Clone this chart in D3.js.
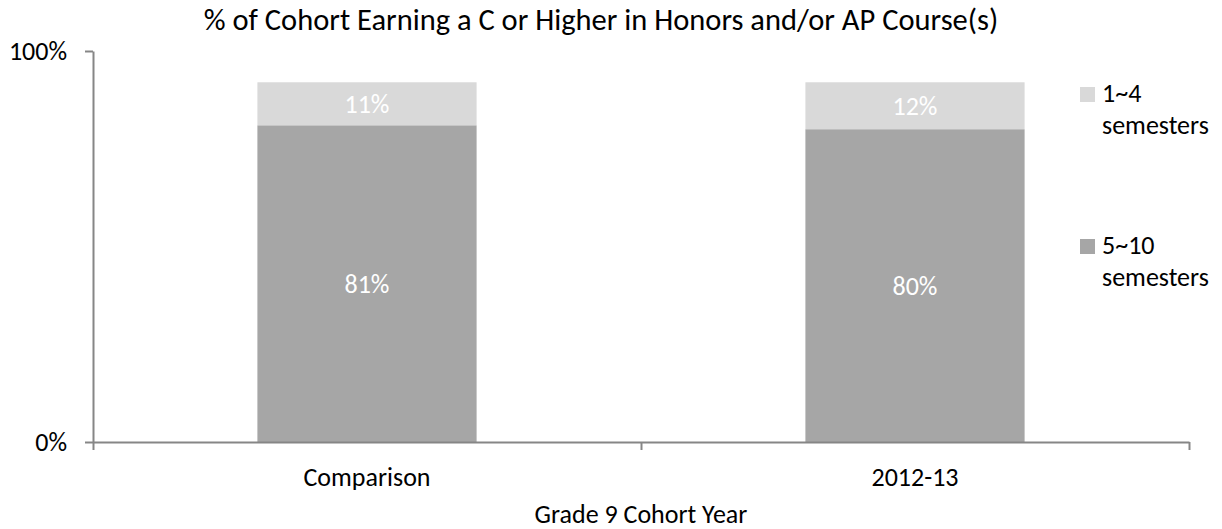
<!DOCTYPE html>
<html>
<head>
<meta charset="utf-8">
<script src="https://cdn.jsdelivr.net/npm/d3@7"></script>
<style>
  body { margin: 0; background: #fff; }
  text { font-family: Carlito, Calibri, Lato, sans-serif; }
</style>
</head>
<body>
<div id="chart"></div>
<script>
const categories = ["Comparison", "2012-13"];
const seriesNames = ["5~10 semesters", "1~4 semesters"];
const fiveToTen = [0.81, 0.80];
const oneToFour = [0.11, 0.12];
const yTicks = [0, 1];

const width = 1222, height = 529;
const plotLeft = 93, plotRight = 1189, plotTop = 51, plotBottom = 442;
const axisColor = "#868686";
const fontSize = 26;
const colors = { "5~10 semesters": "#a6a6a6", "1~4 semesters": "#d9d9d9" };

const svg = d3.select("#chart")
    .append("svg")
    .attr("width", width)
    .attr("height", height);

const rows = categories.map((c, i) => ({ category: c, "5~10 semesters": fiveToTen[i], "1~4 semesters": oneToFour[i] }));
const stacked = d3.stack().keys(seriesNames)(rows);

const x = d3.scaleBand()
    .domain(categories)
    .range([plotLeft, plotRight])
    .padding(0);

const y = d3.scaleLinear()
    .domain([0, 1])
    .range([plotBottom, plotTop]);

const barW = x.bandwidth() * 0.4;

// bars
svg.selectAll(".series")
    .data(stacked)
    .enter()
    .append("g")
    .attr("fill", d => colors[d.key])
    .selectAll("rect")
    .data(d => d)
    .enter()
    .append("rect")
    .attr("x", d => x(d.data.category) + (x.bandwidth() - barW) / 2)
    .attr("y", d => y(d[1]))
    .attr("width", barW)
    .attr("height", d => y(d[0]) - y(d[1]));

// data labels
svg.selectAll(".series-label")
    .data(stacked)
    .enter()
    .append("g")
    .selectAll("text")
    .data(d => d)
    .enter()
    .append("text")
    .attr("x", d => x(d.data.category) + x.bandwidth() / 2)
    .attr("y", d => (y(d[0]) + y(d[1])) / 2)
    .attr("dy", "0.35em")
    .attr("text-anchor", "middle")
    .attr("fill", "#fff")
    .attr("font-size", fontSize)
    .text(d => d3.format(".0%")(d[1] - d[0]));

// y axis
const yAxis = svg.append("g")
    .attr("transform", `translate(${plotLeft},0)`)
    .call(d3.axisLeft(y).tickValues(yTicks).tickFormat(d3.format(".0%")).tickSize(8).tickPadding(18).tickSizeOuter(0));
yAxis.select(".domain").attr("stroke", axisColor).attr("stroke-width", 2);
yAxis.selectAll("line").attr("stroke", axisColor).attr("stroke-width", 2);
yAxis.selectAll("text").attr("font-size", fontSize).attr("fill", "#000").attr("font-family", "Carlito, Calibri, Lato, sans-serif");

// x axis: ticks on band edges
const edges = d3.scaleLinear().domain([0, categories.length]).range([plotLeft, plotRight]);
const xAxis = svg.append("g")
    .attr("transform", `translate(0,${plotBottom})`)
    .call(d3.axisBottom(edges).tickValues(d3.range(categories.length + 1)).tickFormat("").tickSize(8).tickSizeOuter(0));
xAxis.select(".domain").attr("stroke", axisColor).attr("stroke-width", 2);
xAxis.selectAll("line").attr("stroke", axisColor).attr("stroke-width", 2);

svg.selectAll(".cat")
    .data(categories)
    .enter()
    .append("text")
    .attr("x", d => x(d) + x.bandwidth() / 2)
    .attr("y", 486)
    .attr("text-anchor", "middle")
    .attr("font-size", fontSize)
    .text(d => d);

// titles
svg.append("text")
    .attr("x", 601)
    .attr("y", 30)
    .attr("text-anchor", "middle")
    .attr("font-size", 30.5)
    .text("% of Cohort Earning a C or Higher in Honors and/or AP Course(s)");

svg.append("text")
    .attr("x", (plotLeft + plotRight) / 2)
    .attr("y", 523)
    .attr("text-anchor", "middle")
    .attr("font-size", fontSize)
    .text("Grade 9 Cohort Year");

// legend, top entry is the upper segment
const legendY = [87, 239];
const legend = svg.selectAll(".legend")
    .data(seriesNames.slice().reverse())
    .enter()
    .append("g")
    .attr("transform", (d, i) => `translate(1080,${legendY[i]})`);

legend.append("rect")
    .attr("width", 15)
    .attr("height", 15)
    .attr("fill", d => colors[d]);

legend.append("text")
    .attr("x", 22)
    .attr("y", 15)
    .attr("font-size", fontSize)
    .selectAll("tspan")
    .data(d => d.split(" "))
    .enter()
    .append("tspan")
    .attr("x", 22)
    .attr("dy", (d, i) => i ? 32 : 0)
    .text(d => d);
</script>
</body>
</html>
